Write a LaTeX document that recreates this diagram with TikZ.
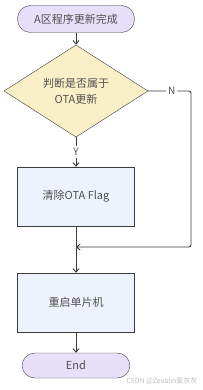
\documentclass[tikz,border=0pt]{standalone}
\usepackage{fontspec}
\usepackage{tikz}
\usetikzlibrary{shapes.geometric, arrows.meta, positioning}
\newfontfamily\cjk{Noto Sans CJK SC}
\definecolor{LineGray}{RGB}{60, 60, 60}
\definecolor{TextGray}{RGB}{80, 80, 80}
\definecolor{TermFill}{RGB}{232, 224, 250}
\definecolor{DecFill}{RGB}{250, 240, 200}
\definecolor{ProcFill}{RGB}{238, 242, 252}
\tikzset{
  term/.style={rectangle, rounded corners=13pt, minimum width=117pt,
    minimum height=27pt, text centered, draw=LineGray, fill=TermFill,
    font=\cjk\fontsize{11}{13}\selectfont, text=TextGray},
  dec/.style={diamond, inner sep=0pt, minimum width=144pt, minimum height=68pt,
    align=center, draw=LineGray, fill=DecFill,
    font=\cjk\fontsize{11}{16}\selectfont, text=TextGray},
  proc/.style={rectangle, minimum width=117pt, minimum height=59pt,
    text centered, draw=LineGray, fill=ProcFill,
    font=\cjk\fontsize{11}{13}\selectfont, text=TextGray},
  arr/.style={-{Straight Barb[length=3.5pt,width=6pt]}, line width=0.9pt, color=LineGray},
  lbl/.style={fill=white, inner sep=2pt, font=\cjk\fontsize{10}{12}\selectfont, text=TextGray},
}
\begin{document}
\begin{tikzpicture}[x=1pt, y=-1pt]
  \useasboundingbox[fill=white] (0,0) rectangle (202,390);
  \node[term] (start) at (76,19) {A区程序更新完成};
  \node[dec]  (check) at (76,91) {判断是否属于\\OTA更新};
  \node[proc] (clear) at (76,196.5) {清除OTA Flag};
  \node[proc] (reboot) at (76,302.5) {重启单片机};
  \node[term, minimum width=108pt, minimum height=25pt] (finish) at (76,365.5) {End};
  \coordinate (merge) at (76,247);
  \coordinate (turn) at (191,91);
  \draw[arr] (start) -- (check);
  \draw[arr] (check) -- node[lbl, pos=0.5] {Y} (clear);
  \draw[arr, rounded corners=2pt] (check.east) -- node[lbl, pos=0.55] {N} (turn) |- (merge);
  \draw[arr] (clear) -- (reboot);
  \draw[arr] (reboot) -- (finish);
  \node[font=\cjk\fontsize{7}{8}\selectfont, text=black!25, anchor=east] (mark) at (201,381) {CSDN @Zevalin爱灰灰};
\end{tikzpicture}
\end{document}
